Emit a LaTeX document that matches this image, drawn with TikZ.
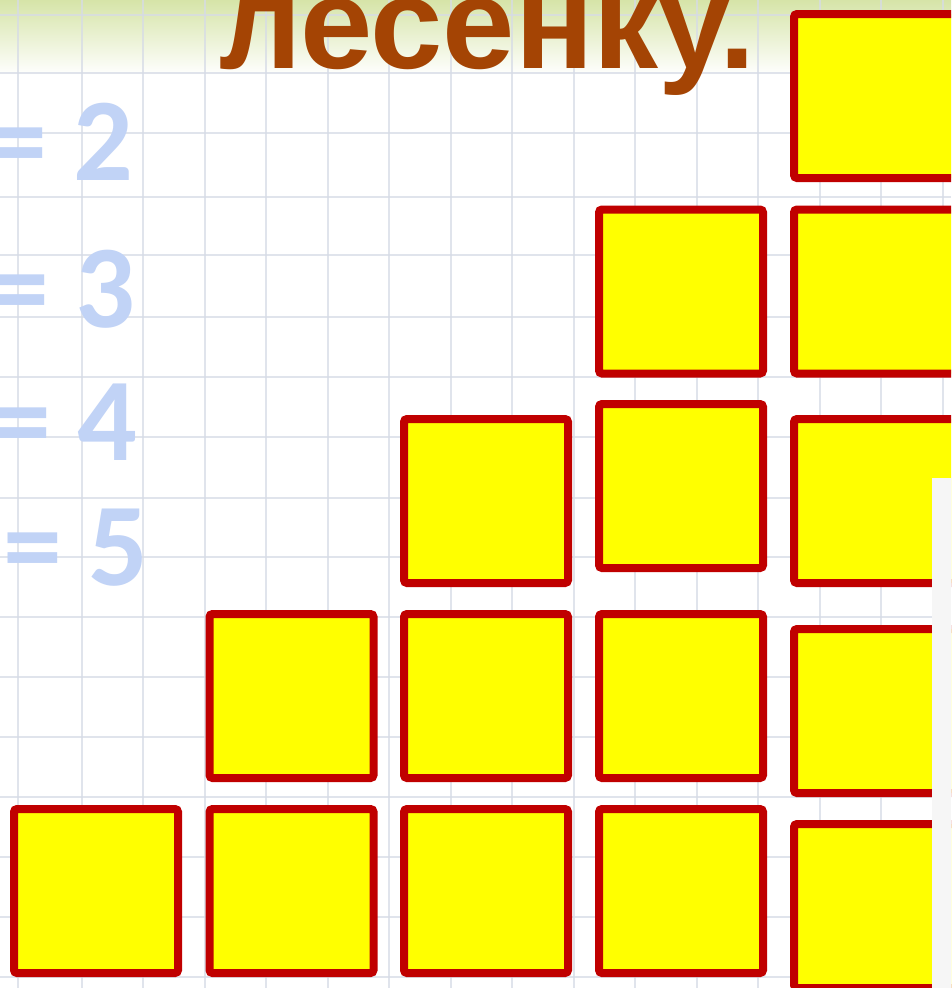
\documentclass[tikz,border=0pt]{standalone}
\usepackage{fontspec}
\newfontfamily\titlefont{Liberation Sans}
\newfontfamily\numfont{Carlito}
\definecolor{sqborder}{RGB}{192,0,0}
\definecolor{sqfill}{RGB}{255,255,0}
\definecolor{titlebrown}{RGB}{164,68,4}
\definecolor{numblue}{RGB}{193,211,246}
\definecolor{gridline}{RGB}{214,219,230}
\definecolor{topgreen}{RGB}{214,228,168}
\definecolor{panelgray}{RGB}{246,246,246}
\tikzset{
  sq/.style={draw=sqborder, fill=sqfill, line width=8pt, rounded corners=3pt,
    minimum size=164pt, inner sep=0pt, shape=rectangle},
  numtext/.style={text=numblue, font=\numfont\bfseries\fontsize{118}{118}\selectfont, anchor=base east, inner sep=0pt},
  gridstroke/.style={draw=gridline, line width=2.6pt, opacity=0.75}
}
\begin{document}
\begin{tikzpicture}[x=1pt,y=-1pt]
\useasboundingbox (0,0) rectangle (951,988);
\clip (0,0) rectangle (951,988);
\fill[white] (0,0) rectangle (951,988);
\shade[top color=topgreen, bottom color=white] (0,0) rectangle (951,75);
% grid paper
\foreach \gx in {18,82,143,205,266,328,389,451,512,574,635,697,758,820,881,943}
  \draw[gridstroke] (\gx,0) -- (\gx,988);
\foreach \gy in {15,73,133,197,255,317,377,437,498,557,617,677,737,797,857,917,977}
  \draw[gridstroke] (0,\gy) -- (951,\gy);
% title
\node[anchor=base west, inner sep=0pt, text=titlebrown,
  font=\titlefont\bfseries\fontsize{130}{130}\selectfont] (title) at (219,68) {лесенку.};
% left numbers
\node[numtext] (n2) at (134,180) {= 2};
\node[numtext] (n3) at (136,327) {= 3};
\node[numtext] (n4) at (138,460) {= 4};
\node[numtext] (n5) at (149,585) {= 5};
% squares
\node[sq] (r5c1) at (96,891) {};
\node[sq] (r5c2) at (291.5,891) {};
\node[sq] (r5c3) at (486,891) {};
\node[sq] (r5c4) at (681,891) {};
\node[sq] (r5c5) at (876,906) {};
\node[sq] (r4c2) at (291.5,696) {};
\node[sq] (r4c3) at (486,696) {};
\node[sq] (r4c4) at (681,696) {};
\node[sq] (r4c5) at (876,711) {};
\node[sq] (r3c3) at (486,501) {};
\node[sq] (r3c4) at (681,486) {};
\node[sq] (r3c5) at (876,501) {};
\node[sq] (r2c4) at (681,291.5) {};
\node[sq] (r2c5) at (876,291.5) {};
\node[sq] (r1c5) at (876,96) {};
% side panel
\fill[panelgray] (932,478) rectangle (951,988);
\end{tikzpicture}
\end{document}
